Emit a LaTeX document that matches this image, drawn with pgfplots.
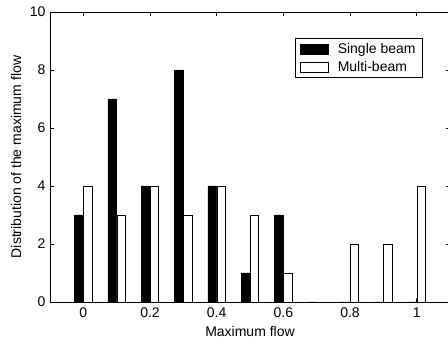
\documentclass[border=0pt]{standalone}
\usepackage{fontspec}
\setmainfont{Liberation Sans}
\usepackage{pgfplots}
\pgfplotsset{compat=1.18}
\begin{document}
\begin{tikzpicture}
\begin{axis}[
  scale only axis,
  width=400pt, height=290pt,
  xmin=-0.1, xmax=1.1, ymin=0, ymax=10,
  xtick={0,0.2,0.4,0.6,0.8,1},
  xticklabels={0,0.2,0.4,0.6,0.8,1},
  ytick={0,2,4,6,8,10},
  tick align=inside,
  major tick length=4pt,
  axis line style={line width=0.8pt},
  every tick/.style={black, line width=0.6pt},
  /pgf/number format/assume math mode=true,
  tick label style={font=\fontsize{14}{16}\selectfont},
  xticklabel style={yshift=-2pt},
  yticklabel style={xshift=-1pt},
  label style={font=\fontsize{14}{16}\selectfont},
  xlabel={Maximum flow},
  ylabel={Distribution of the maximum flow},
  xlabel style={at={(axis description cs:0.5,-0.1034)}, anchor=center},
  ylabel style={at={(axis description cs:-0.085,0.5)}, anchor=center},
  legend style={at={(rel axis cs:0.9325,0.91)}, anchor=north east,
    draw=black, line width=0.8pt, font=\fontsize{14}{16}\selectfont,
    inner xsep=5pt, inner ysep=3pt, row sep=2pt},
  legend cell align=left,
  legend image code/.code={\draw[#1, line width=0.6pt] (0pt,-5pt) rectangle (28pt,5pt); \path (35pt,0pt);},
]
\addplot[ybar, bar width=0.0255, bar shift=-0.0135, fill=black, draw=black, line width=0.6pt]
  coordinates {(0,3) (0.1,7) (0.2,4) (0.3,8) (0.4,4) (0.5,1) (0.6,3) (0.7,0) (0.8,0) (0.9,0) (1.0,0)};
\addlegendentry{Single beam}
\addplot[ybar, bar width=0.0255, bar shift=0.0135, fill=white, draw=black, line width=0.6pt]
  coordinates {(0,4) (0.1,3) (0.2,4) (0.3,3) (0.4,4) (0.5,3) (0.6,1) (0.7,0) (0.8,2) (0.9,2) (1.0,4)};
\addlegendentry{Multi-beam}
\coordinate (sw) at (rel axis cs:0,0);
\coordinate (ne) at (rel axis cs:1,1);
\end{axis}
\pgfresetboundingbox
\path[use as bounding box] ([xshift=-50pt,yshift=-41pt]sw) rectangle ([xshift=-2pt,yshift=12pt]ne);
\end{tikzpicture}
\end{document}
